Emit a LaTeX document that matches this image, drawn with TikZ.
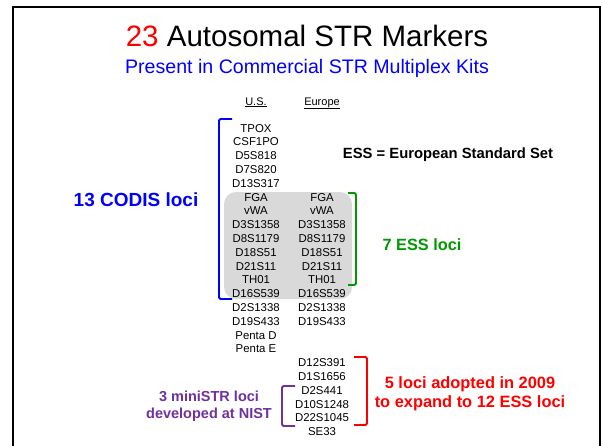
\documentclass[tikz,border=0pt]{standalone}
\usepackage{fontspec}
\setmainfont{Liberation Sans}
\definecolor{codisblue}{RGB}{0,0,255}
\definecolor{essgreen}{RGB}{0,153,0}
\definecolor{newred}{RGB}{255,0,0}
\definecolor{nistpurple}{RGB}{112,48,160}
\definecolor{sharedgray}{RGB}{217,217,217}
\tikzset{
  locus/.style={inner sep=0pt, anchor=base, font=\fontsize{11.4}{13}\selectfont},
  colhead/.style={inner sep=0pt, anchor=base, font=\fontsize{11}{13}\selectfont},
  bracketline/.style={line width=1.8pt, rounded corners=1.5pt},
  grouplabel/.style 2 args={inner sep=0pt, align=center, font=\bfseries\fontsize{#1}{#2}\selectfont},
}
\begin{document}
\begin{tikzpicture}[x=1pt,y=-1pt]
\useasboundingbox (0,0) rectangle (602,445);
% slide frame
\draw[line width=2pt] (13,450) -- (13,7) -- (600,7) -- (600,450);

% title and subtitle
\node[inner sep=0pt, anchor=base, font=\fontsize{29.5}{34}\selectfont] (title) at (307,46.5)
  {\textcolor{newred}{23} Autosomal STR Markers};
\node[inner sep=0pt, anchor=base, text=codisblue, font=\fontsize{19.6}{22}\selectfont] (subtitle) at (307,73)
  {Present in Commercial STR Multiplex Kits};

% loci shared by both sets
\fill[sharedgray, rounded corners=12pt] (224,192) rectangle (352,299);

% column headings
\node[colhead] (hus) at (256,105) {\underline{U.S.}};
\node[colhead] (heu) at (322,105) {\underline{Europe}};

% U.S. column
\foreach \name [count=\i from 0] in {TPOX,CSF1PO,D5S818,D7S820,D13S317,FGA,vWA,D3S1358,D8S1179,D18S51,D21S11,TH01,D16S539,D2S1338,D19S433,Penta D,Penta E}
  \node[locus] (us\i) at (256,{128+13.8*\i+4.1}) {\name};

% European column
\foreach \name [count=\i from 5] in {FGA,vWA,D3S1358,D8S1179,D18S51,D21S11,TH01,D16S539,D2S1338,D19S433}
  \node[locus] (eu\i) at (322,{128+13.8*\i+4.1}) {\name};
\foreach \name [count=\i from 17] in {D12S391,D1S1656,D2S441,D10S1248,D22S1045,SE33}
  \node[locus] (eu\i) at (322,{128+13.8*\i+4.1}) {\name};

% brackets
\draw[bracketline, codisblue] (232,119) -- (219,119) -- (219,299) -- (232,299);
\draw[bracketline, essgreen] (348,193) -- (356,193) -- (356,285) -- (348,285);
\draw[bracketline, newred] (354,357) -- (367,357) -- (367,425) -- (354,425);
\draw[bracketline, nistpurple] (295,386) -- (282,386) -- (282,426) -- (295,426);

% group labels
\node[grouplabel={19}{23}, text=codisblue] (codis) at (136,200) {13 CODIS loci};
\node[grouplabel={14.8}{18}] (essdef) at (448,155) {ESS = European Standard Set};
\node[grouplabel={16.3}{19}, text=essgreen] (ess) at (422,245) {7 ESS loci};
\node[grouplabel={16.4}{19}, text=newred] (added) at (470,393.5) {5 loci adopted in 2009\\to expand to 12 ESS loci};
\node[grouplabel={14.5}{17}, text=nistpurple] (mini) at (209,406.5) {3 miniSTR loci\\developed at NIST};
\end{tikzpicture}
\end{document}
